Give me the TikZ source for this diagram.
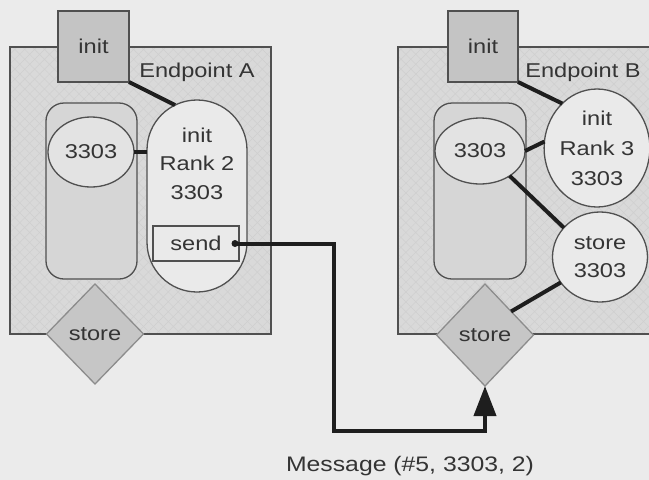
\documentclass[tikz,border=0pt]{standalone}
\usepackage{fontspec}
\setmainfont{Liberation Sans}[FakeStretch=1.18]
\usetikzlibrary{shapes.geometric,arrows.meta,patterns.meta,calc}

\definecolor{bgcol}{HTML}{EBEBEB}
\definecolor{boxfill}{HTML}{D9D9D9}
\definecolor{hatchcol}{HTML}{CFCFCF}
\definecolor{initfill}{HTML}{C4C4C4}
\definecolor{storefill}{HTML}{D6D6D6}
\definecolor{ovalfill}{HTML}{E3E3E3}
\definecolor{procfill}{HTML}{EAEAEA}
\definecolor{diafill}{HTML}{C6C6C6}
\definecolor{diaedge}{HTML}{8C8C8C}
\definecolor{edgecol}{HTML}{505050}
\definecolor{txtcol}{HTML}{343434}
\definecolor{linkcol}{HTML}{1E1E1E}

\tikzset{
  base/.style={inner sep=0pt, outer sep=0pt, text=txtcol,
    font=\fontsize{20}{28.5}\selectfont, align=center},
  lbl/.style={base},
  epbox/.style={base, rectangle, fill=boxfill,
    postaction={pattern={Lines[angle=45,distance=7pt,line width=0.5pt]}, pattern color=hatchcol},
    postaction={pattern={Lines[angle=-45,distance=7pt,line width=0.5pt]}, pattern color=hatchcol},
    postaction={draw=edgecol, line width=1.3pt}},
  initbox/.style={base, rectangle, draw=edgecol, line width=1.3pt, fill=initfill},
  storage/.style={base, rectangle, rounded corners=18pt, draw=edgecol, line width=1.3pt, fill=storefill},
  oval/.style={base, ellipse, draw=edgecol, line width=1.3pt, fill=ovalfill},
  proc/.style={base, draw=edgecol, line width=1.3pt, fill=procfill},
  sendbox/.style={base, rectangle, draw=edgecol, line width=1.3pt, fill=procfill},
  storedia/.style={base, diamond, draw=diaedge, line width=1.3pt, fill=diafill},
  conn/.style={draw=linkcol, line width=4pt},
  msgline/.style={draw=linkcol, line width=4pt, -{Triangle[length=30pt,width=22pt]}},
}

\begin{document}
\begin{tikzpicture}[x=1pt,y=1pt]
\clip (0,0) rectangle (649,-480);
\fill[bgcol] (0,0) rectangle (649,-480);

% ---------------- Endpoint A ----------------
\node[epbox, minimum width=261pt, minimum height=287pt] (boxA) at (140.5,-190.5) {};
\node[initbox, minimum width=71pt, minimum height=71pt] (initA) at (93.5,-46.5) {init};
\node[lbl] (labA) at (197,-72) {Endpoint A};
\node[storage, minimum width=91pt, minimum height=176pt] (stA) at (91.5,-191) {};
\node[oval, minimum width=86pt, minimum height=70pt] (eA) at (91,-152) {3303};
\node[proc, rectangle, rounded corners=50pt, minimum width=100pt, minimum height=192pt] (capA) at (197,-196) {};
\node[lbl] (capAtxt) at (197,-163.5) {init\\Rank 2\\3303};
\node[sendbox, minimum width=86pt, minimum height=35pt] (sendA) at (196,-243.5) {send};
\node[storedia, minimum width=97pt, minimum height=100pt] (dA) at (95,-334) {store};

\draw[conn] (initA.south east) -- ($(capA.north)+(0,-50)+(116:50)$);
\draw[conn] (eA.east) -- (eA.east -| capA.west);

% ---------------- Endpoint B ----------------
\node[epbox, minimum width=262pt, minimum height=287pt] (boxB) at (529,-190.5) {};
\node[initbox, minimum width=70pt, minimum height=71pt] (initB) at (483,-46.5) {init};
\node[lbl] (labB) at (583,-72) {Endpoint B};
\node[storage, minimum width=92pt, minimum height=176pt] (stB) at (480,-191) {};
\node[oval, minimum width=90pt, minimum height=66pt] (eB) at (480,-151) {3303};
\node[proc, ellipse, minimum width=97pt, minimum height=118pt, font=\fontsize{20}{30}\selectfont] (rank3) at (597,-148) {init\\Rank 3\\3303};
\node[proc, ellipse, minimum width=95pt, minimum height=90pt, font=\fontsize{20}{28}\selectfont] (storeC) at (600,-257) {store\\3303};
\node[storedia, minimum width=97pt, minimum height=102pt] (dB) at (485,-335) {store};

\draw[conn] (initB.south east) -- (rank3.128);
\draw[conn] (eB.east) -- (rank3.173);
\draw[conn] (eB.-40) -- (storeC.141);
\draw[conn] (storeC.213) -- (dB.42);

% ---------------- Message ----------------
\coordinate (turn) at (334,-431);
\coordinate (sendstart) at ($(sendA.east)+(-4,0)$);
\fill[linkcol] (sendstart) circle (3.5pt);
\draw[msgline] (sendstart) -| (turn) -| (dB.south);
\node[lbl, font=\fontsize{21}{25}\selectfont] (msg) at (410,-466) {Message (\#5, 3303, 2)};
\end{tikzpicture}
\end{document}
